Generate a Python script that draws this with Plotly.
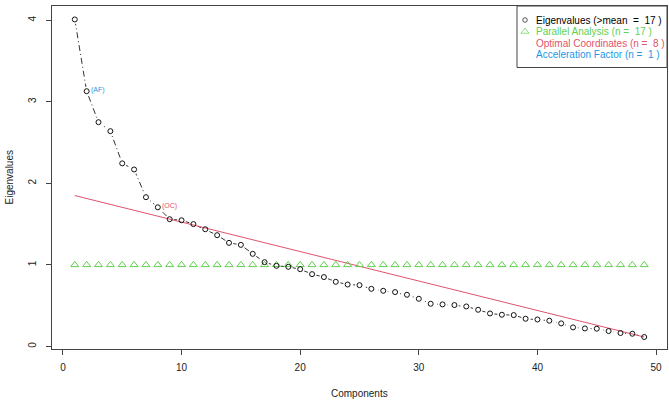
import plotly.graph_objects as go

# ---- data ----
components = list(range(1, 50))
eigenvalues = [4.01, 3.13, 2.75, 2.64, 2.245, 2.17, 1.83, 1.706, 1.56, 1.547,
               1.50, 1.437, 1.364, 1.27, 1.245, 1.135, 1.033, 0.988, 0.976, 0.947,
               0.886, 0.85, 0.792, 0.759, 0.751, 0.706, 0.682, 0.666, 0.633, 0.584,
               0.523, 0.515, 0.507, 0.49, 0.449, 0.404, 0.388, 0.384, 0.339, 0.33,
               0.315, 0.282, 0.233, 0.22, 0.217, 0.188, 0.164, 0.155, 0.115]
parallel = [1.0, 1.0, 1.0, 1.0, 1.0, 1.0, 1.0, 1.0, 1.0, 1.0,
            1.0, 1.0, 1.0, 1.0, 1.0, 1.0, 1.0, 1.0, 1.0, 1.0,
            1.0, 1.0, 1.0, 1.0, 1.0, 1.0, 1.0, 1.0, 1.0, 1.0,
            1.0, 1.0, 1.0, 1.0, 1.0, 1.0, 1.0, 1.0, 1.0, 1.0,
            1.0, 1.0, 1.0, 1.0, 1.0, 1.0, 1.0, 1.0, 1.0]
oc_x = [1, 49]
oc_y = [1.85, 0.115]
af_index = 1   # component 2
oc_index = 7   # component 8
x_ticks = [0, 10, 20, 30, 40, 50]
y_ticks = [0, 1, 2, 3, 4]
legend_labels = ["Eigenvalues (>mean\u00a0 =\u00a0 17 )",
                 "Parallel Analysis (n =\u00a0 17 )",
                 "Optimal Coordinates (n =\u00a0 8 )",
                 "Acceleration Factor (n =\u00a0 1 )"]

BLACK = "#000000"
GREEN = "#61D04F"
RED = "#DF536B"
BLUE = "#2297E6"
AXC = "#444444"
FONT = "Liberation Sans, Arial, sans-serif"

W, H = 669, 403
L, R, T, B = 52, 2, 6, 54

fig = go.Figure()

# eigenvalue line (type "b": line with gaps around the points)
fig.add_trace(go.Scatter(x=components, y=eigenvalues, mode="lines",
                         line=dict(color="#333333", width=1, dash="6px,3px,1px,3px"),
                         showlegend=False, hoverinfo="skip"))
fig.add_trace(go.Scatter(x=components, y=eigenvalues, mode="markers",
                         marker=dict(symbol="circle", size=9, color="white",
                                     line=dict(width=0)),
                         showlegend=False, hoverinfo="skip"))
fig.add_trace(go.Scatter(x=oc_x, y=oc_y, mode="lines",
                         line=dict(color=RED, width=1), showlegend=False,
                         hoverinfo="skip"))
fig.add_trace(go.Scatter(x=components, y=parallel, mode="markers",
                         marker=dict(symbol="triangle-up-open", size=7,
                                     color=GREEN, line=dict(width=1, color=GREEN)),
                         showlegend=False))
fig.add_trace(go.Scatter(x=components, y=eigenvalues, mode="markers",
                         marker=dict(symbol="circle-open", size=5,
                                     color="#111111", line=dict(width=1)),
                         showlegend=False))

# overlay pixel axes for custom legend
fig.add_trace(go.Scatter(x=[525, 525], y=[20, 31.5], xaxis="x2", yaxis="y2",
                         mode="markers",
                         marker=dict(symbol=["circle-open", "triangle-up-open"],
                                     size=[4.5, 7], color=["#111111", GREEN],
                                     line=dict(width=1)),
                         showlegend=False, hoverinfo="skip"))

annotations = []
rows_y = [20, 31.5, 43, 54.5]
cols = [BLACK, GREEN, RED, BLUE]
for lab, yy, cc in zip(legend_labels, rows_y, cols):
    annotations.append(dict(x=534, y=yy, xref="x2", yref="y2", text=lab,
                            showarrow=False, xanchor="left", yanchor="middle",
                            font=dict(size=10, color=cc, family=FONT)))

annotations.append(dict(x=components[af_index], y=eigenvalues[af_index],
                        text="(AF)", showarrow=False, xanchor="left",
                        yanchor="middle", xshift=2, yshift=1,
                        font=dict(size=7, color=BLUE, family=FONT)))
annotations.append(dict(x=components[oc_index], y=eigenvalues[oc_index],
                        text="(OC)", showarrow=False, xanchor="left",
                        yanchor="middle", xshift=2, yshift=1,
                        font=dict(size=7, color=RED, family=FONT)))

annotations.append(dict(x=0.5, y=0, xref="paper", yref="paper", text="Components",
                        showarrow=False, xanchor="center", yanchor="middle",
                        yshift=-44, font=dict(size=10, color="#222", family=FONT)))
annotations.append(dict(x=0, y=0.5, xref="paper", yref="paper", text="Eigenvalues",
                        showarrow=False, xanchor="center", yanchor="middle",
                        xshift=-43, textangle=-90,
                        font=dict(size=10, color="#222", family=FONT)))

shapes = [dict(type="rect", xref="x2", yref="y2", x0=517, x1=667, y0=6, y1=67.5,
               line=dict(color=AXC, width=1), fillcolor="rgba(0,0,0,0)")]

fig.update_layout(
    width=W, height=H,
    margin=dict(l=L, r=R, t=T, b=B),
    paper_bgcolor="white", plot_bgcolor="white",
    font=dict(family=FONT, size=10, color="#222"),
    xaxis=dict(range=[-0.92, 50.92], tickvals=x_ticks, ticks="outside",
               ticklen=5, tickcolor=AXC, showgrid=False, zeroline=False,
               showline=True, mirror=True, linecolor=AXC, linewidth=1,
               ticklabelstandoff=4, tickfont=dict(size=10, color="#222")),
    yaxis=dict(range=[-0.032, 4.175], tickvals=y_ticks, ticks="outside",
               ticklen=5, tickcolor=AXC, showgrid=False, zeroline=False,
               showline=True, mirror=True, linecolor=AXC, linewidth=1,
               tickangle=-90, ticklabelstandoff=6,
               tickfont=dict(size=10, color="#222")),
    xaxis2=dict(range=[L, W - R], overlaying="x", visible=False, domain=[0, 1]),
    yaxis2=dict(range=[H - B, T], overlaying="y", visible=False, domain=[0, 1]),
    annotations=annotations,
    shapes=shapes,
    showlegend=False,
)

fig.write_html("out.html",
               config={"displayModeBar": False, "staticPlot": True},
               post_script="document.body.style.margin='0';"
                           "document.body.style.overflow='hidden';")
